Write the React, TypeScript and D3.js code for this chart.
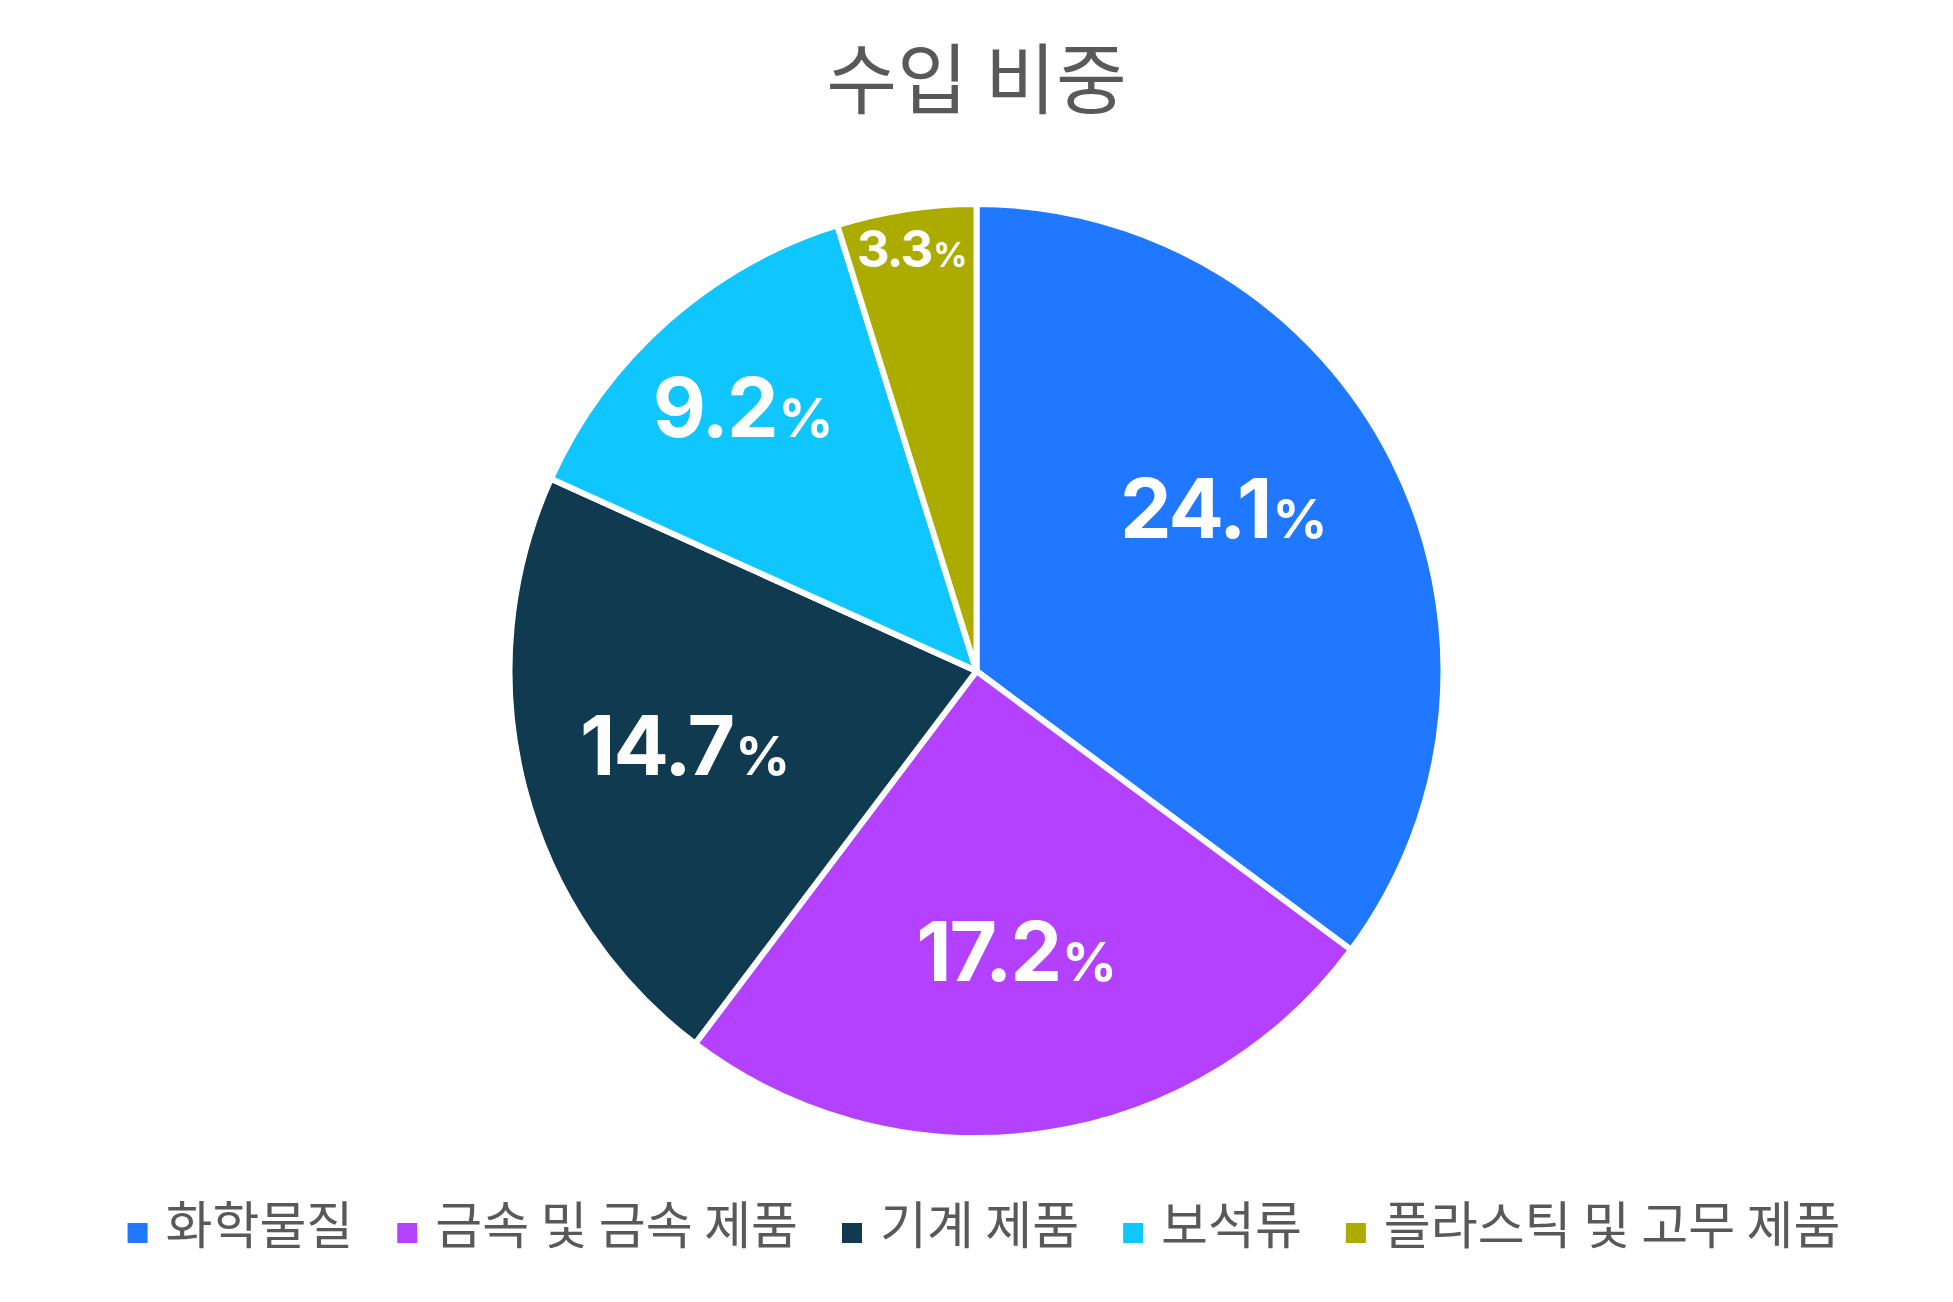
import React, { useEffect, useRef } from "react";
import * as d3 from "d3";

// 수입 비중 data
const categories = ["화학물질", "금속 및 금속 제품", "기계 제품", "보석류", "플라스틱 및 고무 제품"];
const shares = [24.1, 17.2, 14.7, 9.2, 3.3];
const colors = ["#1f78ff", "#b341ff", "#0f3a4f", "#10c6ff", "#abab00"];

// label placement (fraction of radius, angle nudge in degrees, font size)
const labelRadius = [0.634, 0.606, 0.644, 0.754, 0.915];
const labelAngleShift = [-6.7, 0, 0, 0, 0];
const labelFontSize = [82, 82, 82, 82, 51];

const title = "수입 비중";

export default function App() {
  const svgRef = useRef<SVGSVGElement | null>(null);

  useEffect(() => {
    document.body.style.margin = "0";
    document.body.style.overflow = "hidden";

    const width = 1953;
    const height = 1302;
    const cx = 976.5;
    const cy = 671;
    const radius = 467;
    const textColor = "#595959";
    const krFont = "'Noto Sans CJK KR', 'Noto Sans', sans-serif";
    const numFont = "Inter, 'Noto Sans', sans-serif";

    const svg = d3.select(svgRef.current);
    svg.selectAll("*").remove();
    svg.attr("width", width).attr("height", height).attr("viewBox", `0 0 ${width} ${height}`);

    svg.append("rect").attr("width", width).attr("height", height).attr("fill", "#fff");

    // title
    svg
      .append("text")
      .attr("x", cx)
      .attr("y", 108)
      .attr("text-anchor", "middle")
      .attr("font-family", krFont)
      .attr("font-size", 77)
      .attr("fill", textColor)
      .text(title);

    const pie = d3.pie<number>().sort(null).value(d => d);
    const arcs = pie(shares);
    const arc = d3.arc<d3.PieArcDatum<number>>().innerRadius(0).outerRadius(radius);

    const g = svg.append("g").attr("transform", `translate(${cx},${cy})`);

    g.selectAll("path.slice")
      .data(arcs)
      .enter()
      .append("path")
      .attr("class", "slice")
      .attr("d", arc)
      .attr("fill", (_, i) => colors[i])
      .attr("stroke", "#fff")
      .attr("stroke-width", 6)
      .attr("stroke-linejoin", "round");

    // value labels
    arcs.forEach((a, i) => {
      const ang = (a.startAngle + a.endAngle) / 2 + (labelAngleShift[i] * Math.PI) / 180;
      const rr = radius * labelRadius[i];
      const fs = labelFontSize[i];
      const x = Math.sin(ang) * rr;
      const y = -Math.cos(ang) * rr + fs * 0.727 / 2;
      const t = g
        .append("text")
        .attr("x", x)
        .attr("y", y)
        .attr("text-anchor", "middle")
        .attr("font-family", numFont)
        .attr("font-weight", 700)
        .attr("fill", "#fff");
      t.append("tspan").attr("font-size", fs).attr("letter-spacing", -2).text(d3.format(".1f")(shares[i]));
      t.append("tspan").attr("font-size", fs * 0.66).attr("dx", 2).text("%");
    });

    // legend
    const legend = svg.append("g");
    const sq = 20;
    const gapText = 18;
    const gapItem = 44;
    const items = categories.map((c, i) => {
      const ig = legend.append("g");
      ig.append("rect")
        .attr("width", sq)
        .attr("height", sq)
        .attr("y", -sq - 1)
        .attr("fill", colors[i]);
      const tx = ig
        .append("text")
        .attr("x", sq + gapText)
        .attr("y", 0)
        .attr("font-family", krFont)
        .attr("font-size", 51)
        .attr("fill", textColor)
        .text(c);
      const w = (tx.node() as SVGTextElement).getComputedTextLength();
      return { ig, w: sq + gapText + w };
    });
    const total = d3.sum(items, d => d.w) + gapItem * (items.length - 1);
    let xPos = 984 - total / 2;
    items.forEach(it => {
      it.ig.attr("transform", `translate(${xPos},1244)`);
      xPos += it.w + gapItem;
    });
  }, []);

  return <svg ref={svgRef} style={{ display: "block" }}></svg>;
}
